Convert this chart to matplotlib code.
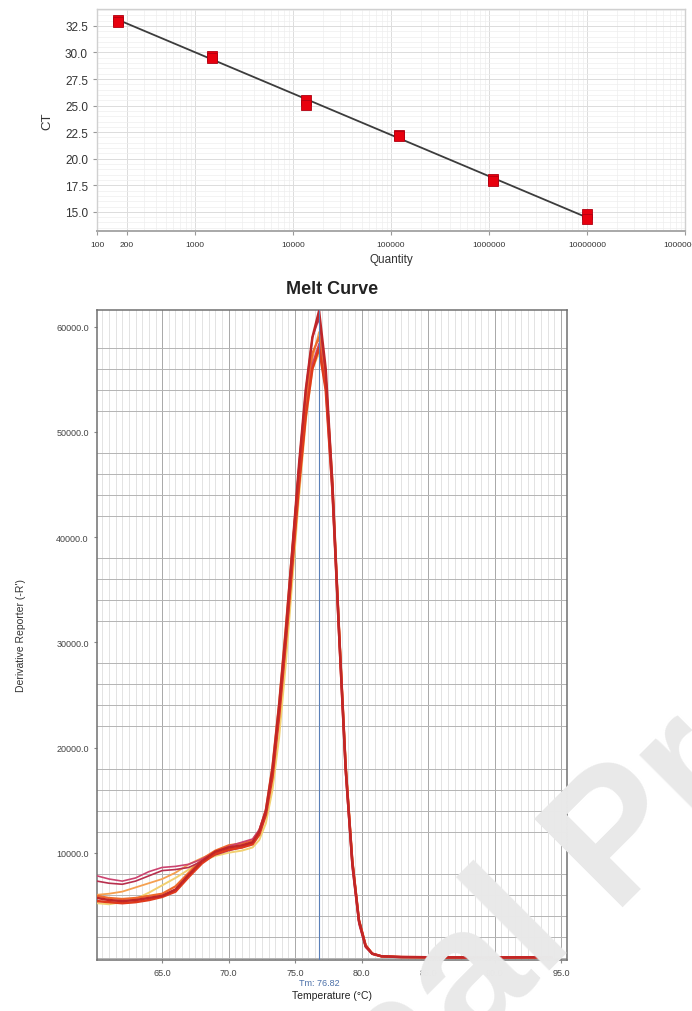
import matplotlib
matplotlib.use("Agg")
import matplotlib.pyplot as plt
from matplotlib.ticker import FixedLocator, MultipleLocator, NullFormatter
import numpy as np

plt.rcParams.update({
    "font.family": ["Liberation Sans", "DejaVu Sans"],
    "axes.linewidth": 1.0,
})

# ---- standard curve data ----
quantity = [164, 164, 1500, 1500, 13500, 13500, 122000, 122000, 1100000, 1100000, 10000000, 10000000]
ct = [33.1, 32.9, 29.7, 29.5, 25.5, 25.1, 22.2, 22.1, 18.1, 17.9, 14.8, 14.3]
qty_ticks = [100, 200, 1000, 10000, 100000, 1000000, 10000000, 100000000]
ct_ticks = [15.0, 17.5, 20.0, 22.5, 25.0, 27.5, 30.0, 32.5]

# ---- melt curve data ----
temp = [60.1, 61.0, 62.0, 63.0, 64.0, 65.0, 66.0, 67.0, 68.0, 69.0, 70.0, 71.0,
        71.8, 72.3, 72.8, 73.3, 73.8, 74.3, 74.8, 75.3, 75.8, 76.3, 76.8, 77.3,
        77.8, 78.3, 78.8, 79.3, 79.8, 80.3, 80.8, 81.5, 83.0, 86.0, 90.0, 94.3]

melt_yellow = [5200, 5100, 5300, 5600, 6200, 6900, 7600, 8400, 9200, 9700, 10000, 10200,
               10500, 11200, 12800, 16000, 21000, 28000, 36000, 44000, 51000, 56000, 57500, 54500,
               45000, 31500, 18500, 9300, 3600, 1200, 400, 150, 80, 50, 40, 60]
melt_lightorange = [6000, 6100, 6300, 6700, 7100, 7500, 8100, 8900, 9500, 10000, 10400, 10700,
                    11000, 11900, 13800, 17600, 23500, 30800, 38500, 46000, 52500, 57000, 59500, 55500,
                    45500, 31500, 18500, 9300, 3600, 1200, 400, 150, 80, 50, 40, 60]
melt_orange = [5900, 5700, 5600, 5700, 5900, 6100, 6800, 8100, 9400, 10200, 10700, 10900,
               11200, 12100, 14100, 18300, 24300, 31500, 39000, 46500, 53000, 57500, 59000, 55000,
               45500, 31500, 18500, 9300, 3600, 1200, 400, 150, 80, 50, 40, 60]
melt_pink = [7800, 7500, 7300, 7600, 8200, 8600, 8700, 8900, 9400, 10000, 10600, 11000,
             11300, 12200, 14000, 17500, 23000, 30000, 37500, 45000, 51500, 56500, 58400, 54000,
             44000, 30500, 17500, 8500, 3200, 1000, 350, 150, 80, 60, 50, 70]
melt_crimson = [7300, 7100, 7000, 7300, 7800, 8300, 8400, 8600, 9200, 9800, 10200, 10500,
                10900, 11900, 13800, 17800, 23800, 31000, 39000, 47000, 54000, 59000, 60800, 55500,
                45000, 31000, 18000, 9000, 3400, 1100, 400, 150, 80, 50, 40, 60]
melt_red = [5400, 5300, 5200, 5300, 5500, 5800, 6300, 7700, 9000, 9900, 10300, 10500,
            10800, 11700, 13600, 17200, 23000, 30000, 37500, 45000, 51500, 56000, 58000, 54000,
            44500, 31000, 18000, 9200, 3600, 1200, 400, 150, 80, 50, 40, 60]
melt_darkred = [5700, 5500, 5400, 5500, 5700, 5900, 6500, 7900, 9200, 10100, 10500, 10700,
                11000, 12000, 14000, 18000, 24000, 31000, 39000, 47000, 54000, 59000, 61500, 56000,
                45000, 31000, 18000, 9000, 3500, 1100, 400, 150, 80, 50, 40, 60]
tm_value = 76.82

fig = plt.figure(figsize=(6.92, 10.12), dpi=100)

# ---------------- top: standard curve ----------------
ax1 = fig.add_axes([0.1402, 0.7708, 0.8497, 0.2194])
ax1.set_xscale("log")
ax1.set_xlim(100, 100000000)
ax1.set_ylim(13.2, 34.1)

# regression line through the standards
slope, intercept = np.polyfit(np.log10(quantity), ct, 1)
qx = np.array([min(quantity), max(quantity)])
ax1.plot(qx, slope * np.log10(qx) + intercept, color="#3c3c3c", lw=1.3, zorder=3)
ax1.plot(quantity, ct, ls="none", marker="s", ms=7.5, mfc="#e8000e", mec="#b00010",
         mew=0.6, zorder=4)

ax1.xaxis.set_major_locator(FixedLocator(qty_ticks))
ax1.set_xticklabels([str(q) for q in qty_ticks])
ax1.xaxis.set_minor_formatter(NullFormatter())
ax1.set_yticks(ct_ticks)
ax1.set_yticklabels([f"{v:.1f}" for v in ct_ticks])
ax1.yaxis.set_minor_locator(MultipleLocator(0.5))
ax1.tick_params(axis="x", which="major", labelsize=6, length=3, color="#999999",
                labelcolor="#333333", pad=4)
ax1.tick_params(axis="y", which="major", labelsize=8.5, length=3, color="#999999",
                labelcolor="#333333")
ax1.tick_params(which="minor", length=0)
ax1.grid(which="major", color="#dcdcdc", lw=0.7)
ax1.grid(which="minor", color="#eeeeee", lw=0.5)
ax1.set_axisbelow(True)
for side in ["top", "right", "left"]:
    ax1.spines[side].set_color("#d0d0d0")
ax1.spines["bottom"].set_color("#a8a8a8")
ax1.spines["bottom"].set_linewidth(1.4)
ax1.set_xlabel("Quantity", fontsize=8.5, color="#333333", labelpad=4)
ax1.set_ylabel("CT", fontsize=9.5, color="#333333", labelpad=8)

# ---------------- bottom: melt curve ----------------
ax2 = fig.add_axes([0.1402, 0.0504, 0.6792, 0.6423])
ax2.set_xlim(60.1, 95.45)
ax2.set_ylim(-200, 61600)

curves = [
    (melt_yellow, "#f2d070", 1.4),
    (melt_lightorange, "#f5a050", 1.3),
    (melt_orange, "#ef6a2c", 1.6),
    (melt_pink, "#cc4470", 1.2),
    (melt_crimson, "#b8304e", 1.2),
    (melt_red, "#e03a1c", 1.8),
    (melt_darkred, "#c02628", 1.8),
]
for vals, col, lw in curves:
    ax2.plot(temp, vals, color=col, lw=lw, zorder=3)

ax2.axvline(tm_value, color="#5a7fb8", lw=0.8, zorder=4)

ax2.set_xticks([65, 70, 75, 80, 85, 90, 95])
ax2.set_xticklabels([f"{v:.1f}" for v in [65, 70, 75, 80, 85, 90, 95]])
ax2.set_yticks([10000, 20000, 30000, 40000, 50000, 60000])
ax2.set_yticklabels([f"{v:.1f}" for v in [10000, 20000, 30000, 40000, 50000, 60000]])
ax2.xaxis.set_minor_locator(MultipleLocator(0.5))
ax2.yaxis.set_minor_locator(MultipleLocator(2000))
ax2.tick_params(which="major", labelsize=6.5, length=2.5, color="#888888",
                labelcolor="#444444")
ax2.tick_params(which="minor", length=0)
ax2.grid(which="major", axis="x", color="#a8a8a8", lw=0.7)
ax2.grid(which="minor", axis="x", color="#dedede", lw=0.6)
ax2.grid(which="minor", axis="y", color="#b4b4b4", lw=0.7)
ax2.set_axisbelow(True)
for side in ax2.spines:
    ax2.spines[side].set_color("#707070")
    ax2.spines[side].set_linewidth(1.1)

ax2.set_title("Melt Curve", fontsize=13, fontweight="bold", color="#222222", pad=12)
ax2.set_ylabel("Derivative Reporter (-R')", fontsize=7.5, color="#333333", labelpad=22)
ax2.set_xlabel("Temperature (\u00b0C)", fontsize=7.5, color="#222222", labelpad=9)
ax2.text(tm_value, -0.034, f"Tm: {tm_value:.2f}", transform=ax2.get_xaxis_transform(),
         ha="center", va="center", fontsize=6.5, color="#4a6fa8")

# faint diagonal watermark, mostly off the page
wm = dict(fontsize=130, fontweight="bold", color="#e9e9e9", rotation=45,
          rotation_mode="anchor", va="baseline", zorder=10)
fig.text(576 / 692, 1 - 942 / 1012, "Journal", ha="right", **wm)
fig.text(611 / 692, 1 - 907 / 1012, "Pre-proof", ha="left", **wm)

fig.savefig("out.png", dpi=100)
